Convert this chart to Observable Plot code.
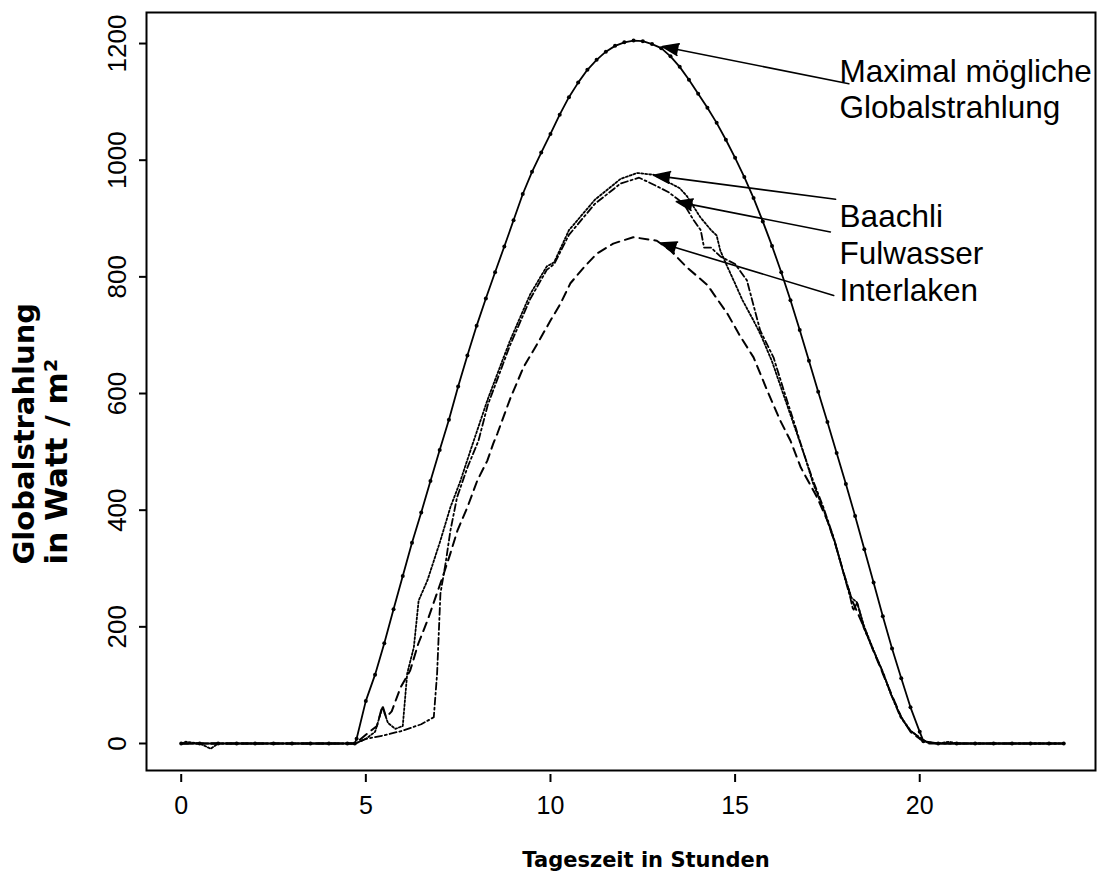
<!DOCTYPE html>
<html><head><meta charset="utf-8">
<script src="https://cdn.jsdelivr.net/npm/d3@7"></script>
<script src="https://cdn.jsdelivr.net/npm/@observablehq/plot@0.6"></script>
<style>body{margin:0;background:#fff;}</style>
</head><body><div id="chart"></div>
<script>
// ---- data ----
const xTicks = [0, 5, 10, 15, 20];
const yTicks = [0, 200, 400, 600, 800, 1000, 1200];

const maxHours = [0,0.5,1,1.5,2,2.5,3,3.5,4,4.5,4.7,4.75,5,5.25,5.5,5.75,6,6.25,6.5,6.75,7,7.25,7.5,7.75,8,8.25,8.5,8.75,9,9.25,9.5,9.75,10,10.25,10.5,10.75,11,11.25,11.5,11.75,12,12.25,12.5,12.75,13,13.25,13.5,13.75,14,14.25,14.5,14.75,15,15.25,15.5,15.75,16,16.25,16.5,16.75,17,17.25,17.5,17.75,18,18.25,18.5,18.75,19,19.25,19.5,19.75,20,20.1,20.5,21,21.5,22,22.5,23,23.5,23.9];
const maxVals  = [0,0,0,0,0,0,0,0,0,0,0,8,73,118,172,230,287,344,396,450,503,555,612,665,716,763,808,852,897,942,980,1013,1045,1078,1108,1133,1155,1172,1186,1196,1202,1205,1204,1199,1192,1178,1160,1138,1114,1090,1064,1035,1004,971,935,895,853,808,760,709,656,603,551,498,445,390,333,276,218,163,112,62,20,4,0,0,0,0,0,0,0,0];

const baachliHours = [0,0.12,0.5,0.8,1,1.5,2,2.5,3,3.5,4,4.5,4.72,5,5.25,5.45,5.6,5.8,6,6.12,6.3,6.43,6.67,7.02,7.29,7.56,7.9,8.3,8.9,9.45,9.9,10.1,10.5,11.2,11.9,12.35,12.8,13.2,13.5,13.7,14.06,14.35,14.5,14.6,14.8,14.96,15.2,15.5,15.7,16,16.3,16.6,16.9,17.1,17.4,17.7,17.95,18.15,18.3,18.5,18.75,19,19.2,19.5,19.75,20,20.2,20.5,20.8,21,21.5,22,22.5,23,23.5,23.9];
const baachliVals  = [0,3,0,-9,0,0,0,0,0,0,0,0,0,8,20,62,35,25,30,120,165,245,280,348,405,450,515,590,690,770,818,825,880,932,968,978,975,962,952,938,902,880,871,845,816,794,760,725,700,655,600,545,490,448,400,345,290,250,242,200,160,122,88,45,22,10,2,0,3,0,0,0,0,0,0,0];

const fulwasserHours = [0,0.5,1,1.5,2,2.5,3,3.5,4,4.5,4.72,5,5.5,6,6.5,6.84,6.93,7.02,7.16,7.29,7.47,7.75,8.05,8.3,8.9,9.45,9.9,10.1,10.5,11.2,11.9,12.4,12.8,13.2,13.6,13.88,14.07,14.16,14.35,14.6,15,15.32,15.68,16.04,16.32,16.58,16.86,17.11,17.39,17.67,17.94,18.12,18.2,18.31,18.48,18.75,19.02,19.21,19.48,19.75,20,20.2,20.5,21,21.5,22,22.5,23,23.5,23.9];
const fulwasserVals  = [0,0,0,0,0,0,0,0,0,0,0,8,14,22,33,45,120,257,309,365,422,473,519,580,682,762,812,822,872,925,960,970,958,945,926,897,880,850,850,835,822,794,708,662,605,554,497,451,405,353,291,250,228,242,199,159,120,86,45,22,10,2,0,0,0,0,0,0,0,0];

const interlakenHours = [0,0.5,1,1.5,2,2.5,3,3.5,4,4.5,4.72,5,5.3,5.45,5.55,5.7,5.94,6.2,6.42,6.67,6.83,7.11,7.29,7.48,7.75,8.02,8.29,8.45,8.56,8.92,9.27,9.65,10,10.27,10.54,10.9,11.26,11.7,12.24,12.88,13.25,13.7,14.25,14.79,15.14,15.5,15.87,16.22,16.5,16.78,17.22,17.5,17.7,17.95,18.15,18.5,18.75,19,19.25,19.5,19.75,20,20.2,20.5,21,21.5,22,22.5,23,23.5,23.9];
const interlakenVals  = [0,0,0,0,0,0,0,0,0,0,0,15,30,65,45,55,96,125,171,211,240,291,326,365,405,451,485,514,531,593,645,686,725,754,789,816,840,857,868,862,845,816,786,737,698,662,605,554,519,473,422,382,345,290,248,198,158,120,82,45,20,8,0,0,0,0,0,0,0,0,0];

const labelNames = ["Maximal mögliche", "Globalstrahlung", "Baachli", "Fulwasser", "Interlaken"];
const labelX     = [17.83, 17.83, 17.83, 17.83, 17.83];
const labelY     = [1151, 1090, 902, 840, 776];

const arrowX1 = [18.08, 17.72, 17.58, 17.67];
const arrowY1 = [1131, 933, 877, 768];
const arrowX2 = [13.03, 12.80, 13.41, 12.98];
const arrowY2 = [1195, 974, 929, 858];

// ---- tables ----
const toRows = (hs, vs) => hs.map((h, i) => ({hour: h, value: vs[i]}));
const maxRows = toRows(maxHours, maxVals);
const baachliRows = toRows(baachliHours, baachliVals);
const fulwasserRows = toRows(fulwasserHours, fulwasserVals);
const interlakenRows = toRows(interlakenHours, interlakenVals);
const labels = labelNames.map((t, i) => ({t, x: labelX[i], y: labelY[i]}));
const arrows = arrowX1.map((x1, i) => ({x1, y1: arrowY1[i], x2: arrowX2[i], y2: arrowY2[i]}));

const chart = Plot.plot({
  width: 1098, height: 893,
  marginLeft: 146, marginRight: 3, marginTop: 12, marginBottom: 123,
  x: {domain: [-0.94, 24.76]},
  y: {domain: [-46.3, 1253.2]},
  style: {background: "white", color: "black", fontFamily: "'Liberation Sans', Arial, sans-serif"},
  marks: [
    Plot.frame({stroke: "black", strokeWidth: 2}),
    Plot.axisX({ticks: xTicks, tickSize: 8, tickPadding: 14, fontSize: 25, label: null, strokeWidth: 2, dy: 4, tickFormat: d => String(d)}),
    Plot.axisY({ticks: yTicks, tickSize: 7, tickPadding: 14, tickRotate: -90, fontSize: 26, label: null, strokeWidth: 2, tickFormat: d => String(d)}),
    Plot.line(interlakenRows, {x: "hour", y: "value", stroke: "black", strokeWidth: 2, strokeDasharray: "9,6"}),
    Plot.line(fulwasserRows, {x: "hour", y: "value", stroke: "black", strokeWidth: 1.8, strokeDasharray: "7,3,2,3"}),
    Plot.line(baachliRows, {x: "hour", y: "value", stroke: "black", strokeWidth: 1.8, strokeDasharray: "2,2"}),
    Plot.line(maxRows, {x: "hour", y: "value", stroke: "black", strokeWidth: 1.8}),
    Plot.dot(maxRows, {x: "hour", y: "value", r: 2, fill: "black"}),
    Plot.arrow(arrows, {x1: "x1", y1: "y1", x2: "x2", y2: "y2", stroke: "black", fill: "black", strokeWidth: 1.6, headLength: 16, headAngle: 40}),
    Plot.text(labels, {x: "x", y: "y", text: "t", textAnchor: "start", lineAnchor: "middle", fontSize: 31.5, fill: "black"}),
    Plot.text(["Globalstrahlung"], {text: d => d, frameAnchor: "left", dx: -122, dy: 173, rotate: -90, textAnchor: "start", lineAnchor: "middle", fontSize: 29, fontWeight: "bold", fontFamily: "'DejaVu Sans', sans-serif", fill: "black"}),
    Plot.text(["in Watt\u00A0/\u00A0m²"], {text: d => d, frameAnchor: "left", dx: -89, dy: 173, rotate: -90, textAnchor: "start", lineAnchor: "middle", fontSize: 31, fontWeight: "bold", fontFamily: "'DejaVu Sans', sans-serif", fill: "black"}),
    Plot.text(["Tageszeit in Stunden"], {text: d => d, frameAnchor: "bottom", dx: 25, dy: 90, textAnchor: "middle", lineAnchor: "middle", fontSize: 21, fontWeight: "bold", fontFamily: "'DejaVu Sans', sans-serif", fill: "black"})
  ]
});
document.getElementById("chart").appendChild(chart);
</script>
</body></html>
